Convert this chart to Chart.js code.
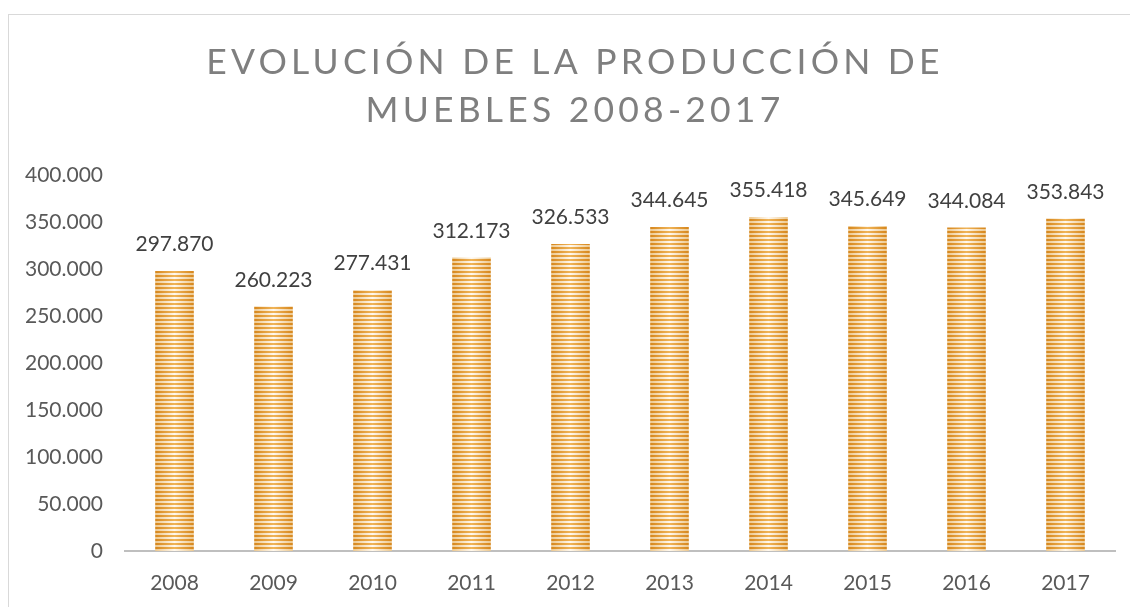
<!DOCTYPE html>
<html lang="es">
  <head>
    <meta charset="UTF-8" />
    <title>Producción de muebles</title>
    <script src="https://cdn.jsdelivr.net/npm/chart.js@4.4.1/dist/chart.umd.min.js"></script>
    <style>
      body { margin: 0; background: #ffffff; overflow: hidden; }
      #box {
        position: absolute;
        left: 8px;
        top: 14px;
        width: 1200px;
        height: 620px;
        border: 1px solid #d9d9d9;
      }
    </style>
  </head>
  <body>
    <div id="box"><canvas id="grafico"></canvas></div>
    <script>
      // datos
      var anios = ["2008", "2009", "2010", "2011", "2012", "2013", "2014", "2015", "2016", "2017"];
      var produccion = [297870, 260223, 277431, 312173, 326533, 344645, 355418, 345649, 344084, 353843];
      var tituloLineas = ["EVOLUCIÓN DE LA PRODUCCIÓN DE", "MUEBLES 2008-2017"];

      var fuente = "Lato, 'Open Sans', sans-serif";

      function miles(v) {
        return String(v).replace(/\B(?=(\d{3})+(?!\d))/g, ".");
      }

      // patron de rayas naranjas, mas claro en el centro de la barra
      var patron = null;
      function rayas(ctx) {
        var chart = ctx.chart;
        var area = chart.chartArea;
        if (!area) return "#e8a040";
        var paso = area.width / anios.length;
        var ancho = paso * 0.39;
        if (!patron) {
          var c = document.createElement("canvas");
          c.width = Math.round(paso * 10) / 10;
          c.height = 4;
          var g = c.getContext("2d");
          var x0 = paso / 2 - ancho / 2;
          var gr1 = g.createLinearGradient(x0, 0, x0 + ancho, 0);
          gr1.addColorStop(0, "#d6861c");
          gr1.addColorStop(0.5, "#f0b458");
          gr1.addColorStop(1, "#d6861c");
          var gr2 = g.createLinearGradient(x0, 0, x0 + ancho, 0);
          gr2.addColorStop(0, "#edc88e");
          gr2.addColorStop(0.5, "#fff8ee");
          gr2.addColorStop(1, "#edc88e");
          g.fillStyle = gr1;
          g.fillRect(0, 0, c.width, 2);
          g.fillStyle = gr2;
          g.fillRect(0, 2, c.width, 2);
          patron = chart.ctx.createPattern(c, "repeat");
        }
        patron.setTransform(new DOMMatrix().translate(area.left, area.bottom));
        return patron;
      }

      var etiquetas = {
        id: "etiquetas",
        afterDatasetsDraw: function (chart) {
          var ctx = chart.ctx;
          var meta = chart.getDatasetMeta(0);
          ctx.save();
          ctx.font = "21px " + fuente;
          ctx.fillStyle = "#404040";
          ctx.textAlign = "center";
          ctx.textBaseline = "bottom";
          meta.data.forEach(function (barra, i) {
            ctx.fillText(miles(produccion[i]), barra.x, barra.y - 16);
          });
          ctx.restore();
        },
        afterDraw: function (chart) {
          var ctx = chart.ctx;
          ctx.save();
          ctx.font = "35.5px " + fuente;
          ctx.fillStyle = "#7f7f7f";
          ctx.textAlign = "center";
          ctx.textBaseline = "middle";
          ctx.letterSpacing = "4.2px";
          ctx.fillText(tituloLineas[0], 566, 48);
          ctx.fillText(tituloLineas[1], 566, 96);
          ctx.restore();
        }
      };

      new Chart(document.getElementById("grafico"), {
        type: "bar",
        data: {
          labels: anios,
          datasets: [
            {
              data: produccion,
              backgroundColor: rayas,
              borderWidth: 0,
              barPercentage: 0.39,
              categoryPercentage: 1
            }
          ]
        },
        options: {
          responsive: true,
          maintainAspectRatio: false,
          animation: false,
          layout: { padding: { top: 160, right: 94, bottom: 0, left: 0 } },
          plugins: {
            legend: { display: false },
            tooltip: { enabled: false }
          },
          scales: {
            x: {
              grid: { display: false, drawTicks: false },
              border: { color: "#bfbfbf", width: 2 },
              ticks: { color: "#595959", font: { family: fuente, size: 21 }, padding: 20 },
              afterFit: function (s) { s.height = 84; }
            },
            y: {
              min: 0,
              max: 400000,
              grid: { display: false, drawTicks: false },
              border: { display: false },
              ticks: {
                stepSize: 50000,
                color: "#595959",
                font: { family: fuente, size: 21 },
                padding: 22,
                callback: function (v) { return miles(v); }
              },
              afterFit: function (s) { s.width = 116; }
            }
          }
        },
        plugins: [etiquetas]
      });
    </script>
  </body>
</html>
